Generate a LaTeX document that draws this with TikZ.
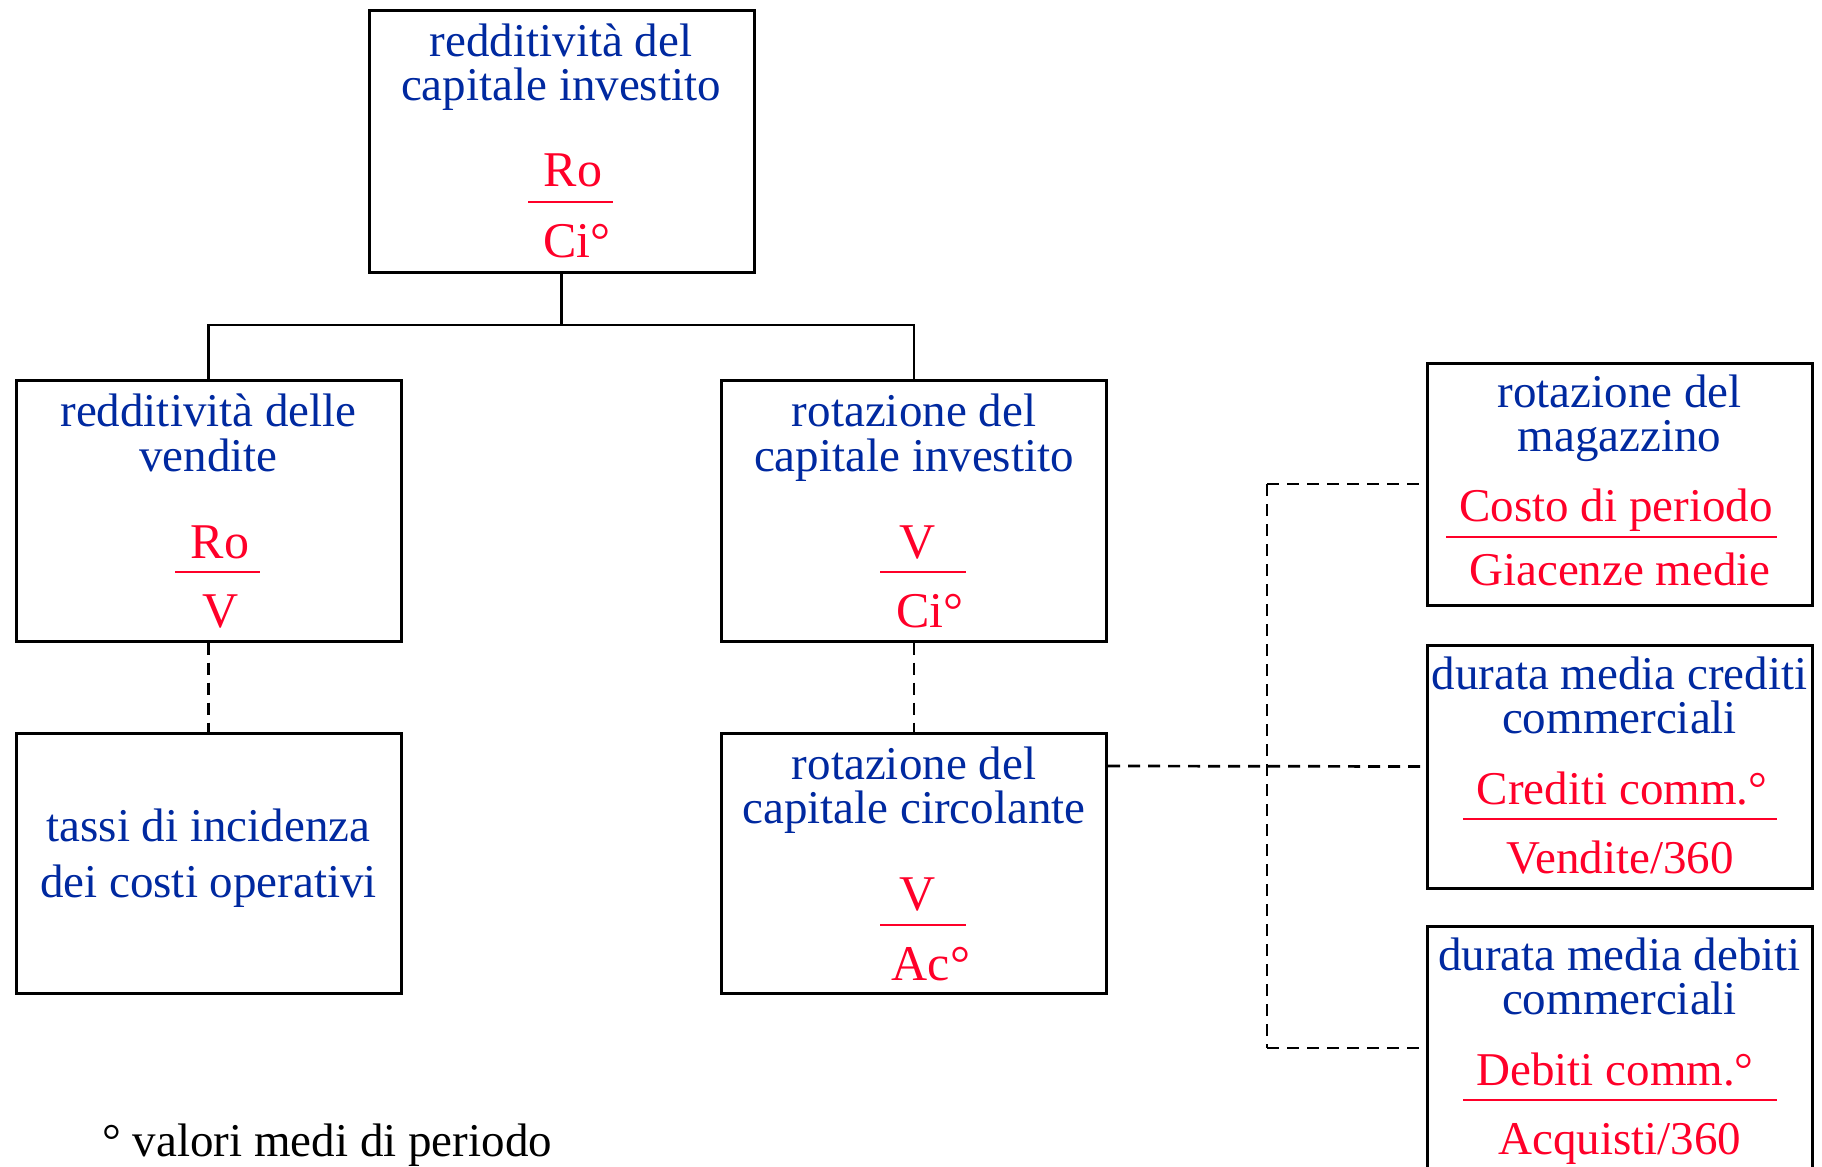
\documentclass[tikz,border=0pt]{standalone}
\usepackage{fontspec}
\setmainfont{Liberation Serif}
\definecolor{tblue}{RGB}{0,41,160}
\definecolor{tred}{RGB}{255,0,41}
\begin{document}
\begin{tikzpicture}[x=0.5pt,y=-0.5pt,
  box/.style={draw=black,line width=1.5pt,inner sep=0pt,minimum width=192.5pt},
  bluetxt/.style={text=tblue,font=\fontsize{23.5}{22}\selectfont,anchor=base,inner sep=0pt},
  redtxt/.style={text=tred,font=\fontsize{23.5}{22}\selectfont,anchor=base,inner sep=0pt},
  bigred/.style={redtxt,font=\fontsize{25}{24}\selectfont},
  fracline/.style={draw=tred,line width=1.4pt},
  conn/.style={line width=1.35pt},
  dconn/.style={line width=1.35pt,dash pattern=on 6pt off 4pt}]
\fill[white] (0,0) rectangle (1822,1167);
\useasboundingbox (0,0) rectangle (1822,1167);
% boxes
\node[box,minimum height=131pt] (top) at (561.5,141) {};
\node[box,minimum height=130.5pt] (lv) at (208.5,510.5) {};
\node[box,minimum height=130.5pt] (rc) at (914,510.5) {};
\node[box,minimum height=130pt] (ti) at (208.5,863) {};
\node[box,minimum height=130pt] (rcc) at (914,863) {};
\node[box,minimum height=121pt] (m1) at (1619.5,484) {};
\node[box,minimum height=121.5pt] (m2) at (1619.5,766.5) {};
\node[box,minimum height=122pt] (m3) at (1619.5,1048) {};
% top box text
\node[bluetxt] (t1) at (561,56) {redditività del};
\node[bluetxt] (t2) at (561,100) {capitale investito};
\node[bigred] (t3) at (573,186) {Ro};
\draw[fracline] (528,202) -- (613,202);
\node[bigred] (t4) at (577,257) {Ci°};
% left box
\node[bluetxt] (l1) at (208.5,426) {redditività delle};
\node[bluetxt] (l2) at (208.5,471) {vendite};
\node[bigred] (l3) at (220,558) {Ro};
\draw[fracline] (175,572) -- (260,572);
\node[bigred] (l4) at (221,627) {V};
% middle box
\node[bluetxt] (c1) at (914,426) {rotazione del};
\node[bluetxt] (c2) at (914,471) {capitale investito};
\node[bigred] (c3) at (918,558) {V};
\draw[fracline] (880,572) -- (966,572);
\node[bigred] (c4) at (930,627) {Ci°};
% lower left
\node[bluetxt] (i1) at (208.5,841) {tassi di incidenza};
\node[bluetxt] (i2) at (208.5,897) {dei costi operativi};
% lower middle
\node[bluetxt] (d1) at (914,779) {rotazione del};
\node[bluetxt] (d2) at (914,823) {capitale circolante};
\node[bigred] (d3) at (918,910) {V};
\draw[fracline] (880,925) -- (966,925);
\node[bigred] (d4) at (931,980) {Ac°};
% right box 1
\node[bluetxt] (r1) at (1619.5,407) {rotazione del};
\node[bluetxt] (r2) at (1619.5,451) {magazzino};
\node[redtxt] (r3) at (1616,521) {Costo di periodo};
\draw[fracline] (1446,537) -- (1777,537);
\node[redtxt] (r4) at (1620,585) {Giacenze medie};
% right box 2
\node[bluetxt] (s1) at (1619.5,689) {durata media crediti};
\node[bluetxt] (s2) at (1619.5,733) {commerciali};
\node[redtxt] (s3) at (1622,804) {Crediti comm.°};
\draw[fracline] (1463,819) -- (1777,819);
\node[redtxt] (s4) at (1620,873) {Vendite/360};
% right box 3
\node[bluetxt] (u1) at (1619.5,970) {durata media debiti};
\node[bluetxt] (u2) at (1619.5,1014) {commerciali};
\node[redtxt] (u3) at (1615,1085) {Debiti comm.°};
\draw[fracline] (1463,1100) -- (1777,1100);
\node[redtxt] (u4) at (1620,1154) {Acquisti/360};
% footnote
\node[anchor=base west,inner sep=0pt,font=\fontsize{23.5}{22}\selectfont] (fn) at (102,1156) {° valori medi di periodo};
% connectors
\coordinate (bar) at (0,325);
\draw[conn] (top.south) -- (top.south |- bar);
\draw[conn] (lv.north) -- (lv.north |- bar) -- (rc.north |- bar) -- (rc.north);
\draw[dconn] (lv.south) -- (ti.north);
\draw[dconn] (rc.south) -- (rcc.north);
\coordinate (j) at (1267,766);
\draw[dconn] (rcc.east |- j) -- ([xshift=-2pt]m2.west);
\draw[dconn] (j |- m1.west) -- (j |- m3.west);
\draw[dconn] (j |- m1.west) -- (m1.west);
\draw[dconn] (j |- m3.west) -- (m3.west);
\end{tikzpicture}
\end{document}
